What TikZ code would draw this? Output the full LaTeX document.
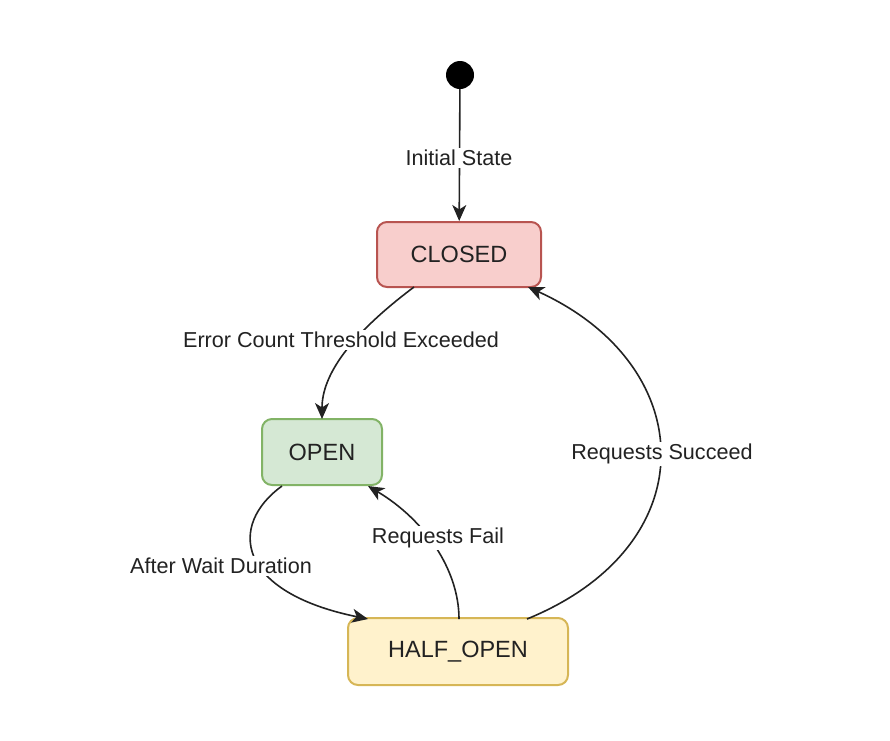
\documentclass[tikz,border=0pt]{standalone}
\usepackage{fontspec}
\setmainfont{Liberation Sans}
\usetikzlibrary{arrows.meta}
\definecolor{txt}{HTML}{222222}
\definecolor{redf}{HTML}{F8CECC}\definecolor{redd}{HTML}{B85450}
\definecolor{grnf}{HTML}{D5E8D4}\definecolor{grnd}{HTML}{82B366}
\definecolor{yelf}{HTML}{FFF2CC}\definecolor{yeld}{HTML}{D6B656}
\tikzset{
  state/.style={draw, line width=2pt, rounded corners=10pt, inner sep=0pt,
    font=\fontsize{23.5}{26}\selectfont, text=txt},
  lbl/.style={fill=white, inner sep=2pt, font=\fontsize{21.6}{24}\selectfont, text=txt},
  conn/.style={draw=txt, line width=1.6pt, -{Stealth[length=16pt,width=14pt,inset=4.5pt]}}
}
\begin{document}
\begin{tikzpicture}[x=1pt,y=-1pt]
\useasboundingbox (0,0) rectangle (890,740);
\node[circle, fill=black, minimum size=28pt, inner sep=0pt] (init) at (460,75) {};
\node[state, fill=redf, draw=redd, minimum width=164pt, minimum height=65pt] (closed) at (459,254.5) {CLOSED};
\node[state, fill=grnf, draw=grnd, minimum width=120pt, minimum height=66pt] (open) at (322,452) {OPEN};
\node[state, fill=yelf, draw=yeld, minimum width=220pt, minimum height=67pt] (half) at (458,651.5) {HALF\_OPEN};
\coordinate (c1) at (414,287);
\coordinate (o1) at (322,419);
\coordinate (o2) at (282,486);
\coordinate (h1) at (368,619);
\coordinate (h2) at (459,619);
\coordinate (o3) at (368,486);
\coordinate (h3) at (527,619);
\coordinate (c2) at (528,287);
\draw[conn] (init) -- (closed);
\draw[conn] (c1) .. controls (350,335) and (322,375) .. (o1);
\draw[conn] (o2) .. controls (228,525) and (236,592) .. (h1);
\draw[conn] (h2) .. controls (459,570) and (425,520) .. (o3);
\draw[conn] (h3) .. controls (708,545) and (700,365) .. (c2);
\node[lbl] (l1) at (459,158) {Initial State};
\node[lbl] (l2) at (341,340) {Error Count Threshold Exceeded};
\node[lbl] (l3) at (221,566) {After Wait Duration};
\node[lbl] (l4) at (438,538) {Requests Fail};
\node[lbl] (l5) at (662,454) {Requests Succeed};
\end{tikzpicture}
\end{document}
